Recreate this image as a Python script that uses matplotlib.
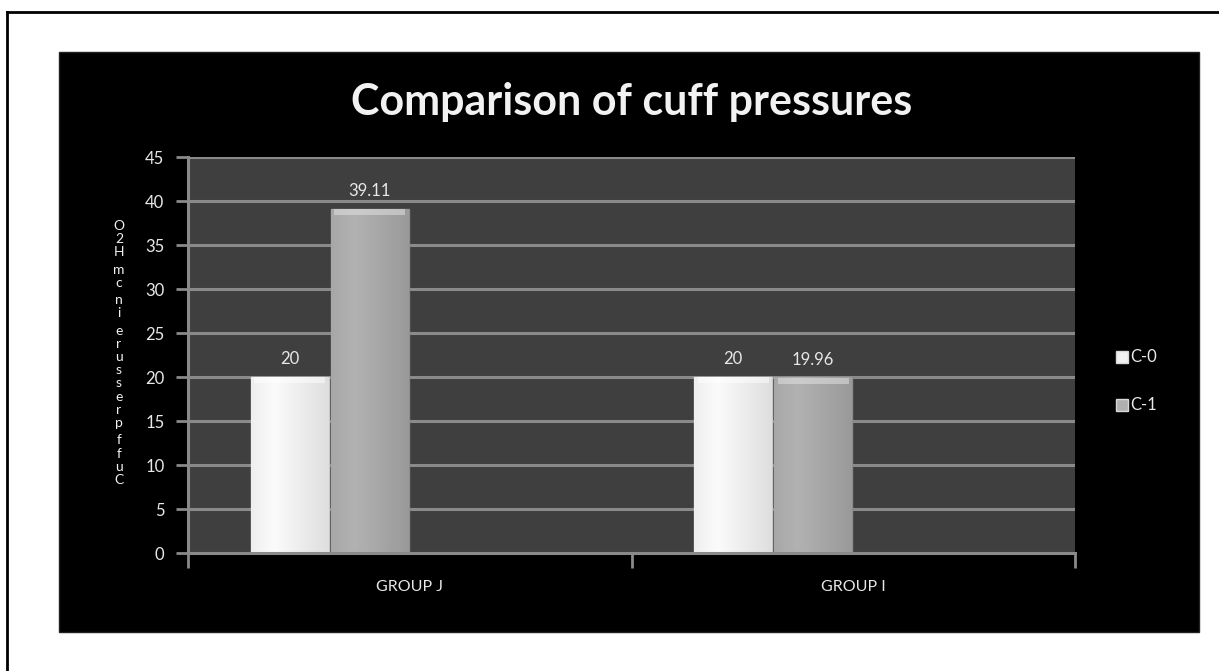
import numpy as np
import matplotlib
matplotlib.use("Agg")
import matplotlib.pyplot as plt
from matplotlib.patches import Rectangle
from matplotlib.lines import Line2D

categories = ["GROUP J", "GROUP I"]
series_names = ["C-0", "C-1"]
c0_values = [20, 20]
c1_values = [39.11, 19.96]
c0_labels = ["20", "20"]
c1_labels = ["39.11", "19.96"]
yticks = [0, 5, 10, 15, 20, 25, 30, 35, 40, 45]
ylabel = "Cuff pressure in cm H2O"
title = "Comparison of cuff pressures"

W, H = 1219, 671
fig = plt.figure(figsize=(W / 100, H / 100), dpi=100, facecolor="white")

def fx(px):
    return px / W

def fy(py):
    return 1 - py / H

# outer border (left and top visible)
fig.add_artist(Line2D([fx(7), fx(7)], [fy(12), 0], transform=fig.transFigure, color="black", lw=2))
fig.add_artist(Line2D([fx(7), 1], [fy(12), fy(12)], transform=fig.transFigure, color="black", lw=2))
# black chart area
fig.add_artist(Rectangle((fx(59), fy(632)), fx(1199) - fx(59), fy(52) - fy(632),
                         transform=fig.transFigure, facecolor="black", edgecolor="#222222", lw=1, zorder=0))

ax = fig.add_axes([fx(188), fy(553), fx(1075) - fx(188), fy(157) - fy(553)])
ax.set_facecolor("#3f3f3f")
ax.set_xlim(-0.5, 1.5)
ax.set_ylim(0, 45)

grid_color = "#8a8a8a"
for t in yticks[1:]:
    ax.axhline(t, color=grid_color, lw=2.2, zorder=1)

bw = 80 / 443.5
x = np.arange(len(categories))
offs = [(-1.5) * bw, (-0.5) * bw]

def grad_bar(xc, h, light, dark, edge, top):
    bars = ax.bar(xc, h, width=bw * 0.97, color=light, zorder=3, edgecolor=edge, lw=1)
    for b in bars:
        x0 = b.get_x(); w = b.get_width(); hh = b.get_height()
        g = np.linspace(0, 1, 64)
        prof = np.clip(1 - 1.1 * np.abs(g - 0.3), 0, 1)
        img = np.outer(np.ones(8), prof)
        cmap = matplotlib.colors.LinearSegmentedColormap.from_list("g", [dark, light])
        im = ax.imshow(img, extent=[x0, x0 + w, 0, hh], aspect="auto", cmap=cmap,
                       vmin=0, vmax=1, zorder=4, origin="lower")
        im.set_clip_path(b)
        # top bevel highlight
        ax.add_patch(Rectangle((x0 + w * 0.04, hh - 0.7), w * 0.92, 0.65,
                               facecolor=top, alpha=0.5, edgecolor="none", zorder=5))
    return bars

grad_bar(x + offs[0], c0_values, "#fbfbfb", "#d6d6d6", "#c8c8c8", "#ffffff")
grad_bar(x + offs[1], c1_values, "#b2b2b2", "#939393", "#8c8c8c", "#e6e6e6")
ax.set_xlim(-0.5, 1.5)
ax.set_ylim(0, 45)

for i in range(len(categories)):
    ax.text(x[i] + offs[0], c0_values[i] + 1.1, c0_labels[i], ha="center", va="bottom",
            color="#e8e8e8", fontsize=12, family="Lato", zorder=6)
    ax.text(x[i] + offs[1], c1_values[i] + 1.1, c1_labels[i], ha="center", va="bottom",
            color="#e8e8e8", fontsize=12, family="Lato", zorder=6)

for s in ["top", "right"]:
    ax.spines[s].set_visible(False)
for s in ["left", "bottom"]:
    ax.spines[s].set_color(grid_color)
    ax.spines[s].set_linewidth(2.2)
    ax.spines[s].set_zorder(7)

ax.set_yticks(yticks)
ax.set_yticklabels([str(t) for t in yticks], color="#e8e8e8", fontsize=12, family="Lato")
ax.tick_params(axis="y", length=9, width=2, color=grid_color, pad=8)
ax.set_xticks([-0.5, 0.5, 1.5])
ax.set_xticklabels([])
ax.tick_params(axis="x", length=11, width=2, color=grid_color)
for i, c in enumerate(categories):
    ax.text(x[i], -3.9, c, ha="center", va="center", color="#e8e8e8", fontsize=11.5,
            family="Lato")

# title
fig.text(fx(632), fy(102), title, ha="center", va="center", color="#f2f2f2",
         fontsize=31, fontweight="bold", family="Lato")

# stacked y label (upright characters, reading from bottom to top, spaces compressed)
chars = list(ylabel)
weights = [0.3 if ch == " " else 1.0 for ch in chars]
cum = np.concatenate([[0], np.cumsum([(weights[k] + weights[k + 1]) / 2 for k in range(len(chars) - 1)])])
ybot, ytop = 480, 226
step = (ybot - ytop) / cum[-1]
for k, ch in enumerate(chars):
    if ch == " ":
        continue
    fig.text(fx(119), fy(ybot - cum[k] * step), ch, ha="center", va="center",
             color="#f0f0f0", fontsize=10, family="Lato")

# legend
for j, (name, col) in enumerate(zip(series_names, ["#f2f2f2", "#b0b0b0"])):
    yy = 357 + j * 48
    fig.add_artist(Rectangle((fx(1116), fy(yy + 6)), fx(12), fy(0) - fy(12),
                             transform=fig.transFigure, facecolor=col, edgecolor="#d8d8d8", lw=1))
    fig.text(fx(1130), fy(yy), name, ha="left", va="center", color="#e8e8e8",
             fontsize=12, family="Lato")

fig.savefig("out.png", dpi=100, facecolor="white")
